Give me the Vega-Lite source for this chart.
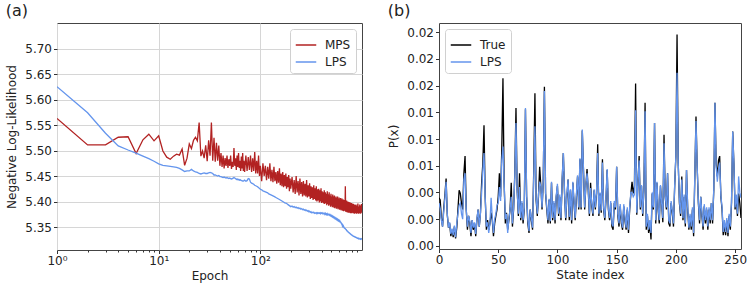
{
  "$schema": "https://vega.github.io/schema/vega-lite/v6.json",
  "padding": {"left": 5, "top": 2, "right": 5, "bottom": 2},
  "background": "white",
  "spacing": 24,
  "config": {
    "font": "DejaVu Sans",
    "view": {"stroke": "#444", "strokeWidth": 1},
    "axis": {"domain": false, "labelFontSize": 12, "titleFontSize": 12, "labelColor": "#222", "titleColor": "#222", "titleFontWeight": "normal", "tickColor": "#333", "tickSize": 3.5, "labelPadding": 2, "grid": false, "labelFont": "DejaVu Sans", "titleFont": "DejaVu Sans"},
    "title": {"fontSize": 16, "fontWeight": "normal", "anchor": "start", "frame": "bounds", "font": "DejaVu Sans", "color": "#222"},
    "legend": {"title": null, "symbolType": "stroke", "symbolStrokeWidth": 1.5, "symbolSize": 420, "labelFontSize": 12, "labelFont": "DejaVu Sans", "labelColor": "#222", "padding": 5, "rowPadding": 0, "fillColor": "white", "strokeColor": "#d0d0d0", "cornerRadius": 3, "offset": 6, "labelOffset": 8}
  },
  "datasets": {
    "nll": [
      {"e":1,"MPS":5.563,"LPS":5.625},{"e":2,"MPS":5.511,"LPS":5.574},{"e":3,"MPS":5.511,"LPS":5.534},{"e":4,"MPS":5.526,"LPS":5.509},{"e":5,"MPS":5.527,"LPS":5.501},
      {"e":6,"MPS":5.494,"LPS":5.495},{"e":7,"MPS":5.521,"LPS":5.489},{"e":8,"MPS":5.532,"LPS":5.484},{"e":9,"MPS":5.519,"LPS":5.479},{"e":10,"MPS":5.529,"LPS":5.474},
      {"e":11,"MPS":5.499,"LPS":5.471},{"e":12,"MPS":5.487,"LPS":5.470},{"e":13,"MPS":5.483,"LPS":5.469},{"e":14,"MPS":5.489,"LPS":5.468},{"e":15,"MPS":5.493,"LPS":5.467},
      {"e":16,"MPS":5.491,"LPS":5.465},{"e":17,"MPS":5.503,"LPS":5.462},{"e":18,"MPS":5.471,"LPS":5.459},{"e":19,"MPS":5.485,"LPS":5.460},{"e":20,"MPS":5.513,"LPS":5.460},
      {"e":21,"MPS":5.504,"LPS":5.463},{"e":22,"MPS":5.520,"LPS":5.460},{"e":23,"MPS":5.526,"LPS":5.458},{"e":24,"MPS":5.519,"LPS":5.457},{"e":25,"MPS":5.555,"LPS":5.455},
      {"e":26,"MPS":5.489,"LPS":5.454},{"e":27,"MPS":5.499,"LPS":5.455},{"e":28,"MPS":5.485,"LPS":5.456},{"e":29,"MPS":5.510,"LPS":5.455},{"e":30,"MPS":5.479,"LPS":5.455},
      {"e":31,"MPS":5.520,"LPS":5.456},{"e":32,"MPS":5.490,"LPS":5.457},{"e":33,"MPS":5.555,"LPS":5.456},{"e":34,"MPS":5.480,"LPS":5.455},{"e":35,"MPS":5.525,"LPS":5.452},
      {"e":36,"MPS":5.478,"LPS":5.452},{"e":37,"MPS":5.515,"LPS":5.451},{"e":38,"MPS":5.480,"LPS":5.450},{"e":39,"MPS":5.510,"LPS":5.451},{"e":40,"MPS":5.470,"LPS":5.449},
      {"e":41,"MPS":5.495,"LPS":5.449},{"e":42,"MPS":5.468,"LPS":5.448},{"e":43,"MPS":5.490,"LPS":5.447},{"e":44,"MPS":5.465,"LPS":5.448},{"e":45,"MPS":5.485,"LPS":5.447},
      {"e":46,"MPS":5.470,"LPS":5.446},{"e":47,"MPS":5.490,"LPS":5.447},{"e":48,"MPS":5.466,"LPS":5.446},{"e":49,"MPS":5.483,"LPS":5.445},{"e":50,"MPS":5.470,"LPS":5.446},
      {"e":51,"MPS":5.490,"LPS":5.445},{"e":52,"MPS":5.464,"LPS":5.444},{"e":53,"MPS":5.478,"LPS":5.445},{"e":54,"MPS":5.468,"LPS":5.446},{"e":55,"MPS":5.505,"LPS":5.447},
      {"e":56,"MPS":5.470,"LPS":5.446},{"e":57,"MPS":5.485,"LPS":5.445},{"e":58,"MPS":5.462,"LPS":5.444},{"e":59,"MPS":5.490,"LPS":5.443},{"e":60,"MPS":5.468,"LPS":5.444},
      {"e":61,"MPS":5.495,"LPS":5.443},{"e":62,"MPS":5.466,"LPS":5.442},{"e":63,"MPS":5.480,"LPS":5.443},{"e":64,"MPS":5.460,"LPS":5.442},{"e":65,"MPS":5.488,"LPS":5.441},
      {"e":66,"MPS":5.465,"LPS":5.441},{"e":67,"MPS":5.495,"LPS":5.440},{"e":68,"MPS":5.460,"LPS":5.440},{"e":69,"MPS":5.480,"LPS":5.441},{"e":70,"MPS":5.458,"LPS":5.442},
      {"e":72,"MPS":5.490,"LPS":5.440},{"e":74,"MPS":5.460,"LPS":5.441},{"e":76,"MPS":5.487,"LPS":5.445},{"e":78,"MPS":5.462,"LPS":5.444},{"e":80,"MPS":5.490,"LPS":5.438},
      {"e":82,"MPS":5.458,"LPS":5.436},{"e":84,"MPS":5.485,"LPS":5.435},{"e":86,"MPS":5.460,"LPS":5.434},{"e":88,"MPS":5.497,"LPS":5.432},{"e":90,"MPS":5.455,"LPS":5.431},
      {"e":92,"MPS":5.480,"LPS":5.430},{"e":94,"MPS":5.455,"LPS":5.429},{"e":96,"MPS":5.490,"LPS":5.427},{"e":98,"MPS":5.450,"LPS":5.426},{"e":100,"MPS":5.470,"LPS":5.424},
      {"e":103,"MPS":5.440,"LPS":5.423},{"e":106,"MPS":5.475,"LPS":5.421},{"e":109,"MPS":5.450,"LPS":5.420},{"e":112,"MPS":5.470,"LPS":5.419},{"e":115,"MPS":5.442,"LPS":5.418},
      {"e":118,"MPS":5.468,"LPS":5.417},{"e":121,"MPS":5.445,"LPS":5.415},{"e":124,"MPS":5.475,"LPS":5.414},{"e":127,"MPS":5.440,"LPS":5.413},{"e":130,"MPS":5.462,"LPS":5.412},
      {"e":133,"MPS":5.438,"LPS":5.411},{"e":136,"MPS":5.468,"LPS":5.410},{"e":139,"MPS":5.440,"LPS":5.409},{"e":142,"MPS":5.458,"LPS":5.408},{"e":145,"MPS":5.435,"LPS":5.407},
      {"e":148,"MPS":5.460,"LPS":5.406},{"e":151,"MPS":5.437,"LPS":5.405},{"e":154,"MPS":5.465,"LPS":5.404},{"e":157,"MPS":5.432,"LPS":5.403},{"e":160,"MPS":5.455,"LPS":5.402},
      {"e":163,"MPS":5.430,"LPS":5.401},{"e":166,"MPS":5.458,"LPS":5.400},{"e":169,"MPS":5.428,"LPS":5.399},{"e":172,"MPS":5.452,"LPS":5.398},{"e":175,"MPS":5.430,"LPS":5.397},
      {"e":178,"MPS":5.455,"LPS":5.397},{"e":181,"MPS":5.425,"LPS":5.396},{"e":184,"MPS":5.448,"LPS":5.395},{"e":187,"MPS":5.428,"LPS":5.394},{"e":190,"MPS":5.452,"LPS":5.393},
      {"e":193,"MPS":5.420,"LPS":5.392},{"e":196,"MPS":5.445,"LPS":5.391},{"e":199,"MPS":5.425,"LPS":5.390},
      {"e":205,"MPS":5.448,"LPS":5.391},{"e":210,"MPS":5.418,"LPS":5.389},{"e":215,"MPS":5.442,"LPS":5.390},{"e":220,"MPS":5.415,"LPS":5.388},{"e":225,"MPS":5.450,"LPS":5.389},
      {"e":230,"MPS":5.418,"LPS":5.387},{"e":235,"MPS":5.440,"LPS":5.388},{"e":240,"MPS":5.412,"LPS":5.386},{"e":245,"MPS":5.445,"LPS":5.387},{"e":250,"MPS":5.415,"LPS":5.385},
      {"e":255,"MPS":5.438,"LPS":5.386},{"e":260,"MPS":5.410,"LPS":5.384},{"e":265,"MPS":5.440,"LPS":5.385},{"e":270,"MPS":5.412,"LPS":5.383},{"e":275,"MPS":5.435,"LPS":5.384},
      {"e":280,"MPS":5.410,"LPS":5.382},{"e":285,"MPS":5.442,"LPS":5.383},{"e":290,"MPS":5.408,"LPS":5.381},{"e":295,"MPS":5.432,"LPS":5.382},{"e":300,"MPS":5.410,"LPS":5.380},
      {"e":305,"MPS":5.436,"LPS":5.381},{"e":310,"MPS":5.405,"LPS":5.379},{"e":315,"MPS":5.430,"LPS":5.380},{"e":320,"MPS":5.407,"LPS":5.378},{"e":325,"MPS":5.428,"LPS":5.379},
      {"e":330,"MPS":5.403,"LPS":5.378},{"e":335,"MPS":5.432,"LPS":5.379},{"e":340,"MPS":5.405,"LPS":5.377},{"e":345,"MPS":5.426,"LPS":5.378},{"e":350,"MPS":5.402,"LPS":5.377},
      {"e":355,"MPS":5.430,"LPS":5.378},{"e":360,"MPS":5.400,"LPS":5.376},{"e":365,"MPS":5.424,"LPS":5.378},{"e":370,"MPS":5.402,"LPS":5.377},{"e":375,"MPS":5.425,"LPS":5.378},
      {"e":380,"MPS":5.398,"LPS":5.377},{"e":385,"MPS":5.422,"LPS":5.378},{"e":390,"MPS":5.400,"LPS":5.376},{"e":395,"MPS":5.426,"LPS":5.378},{"e":400,"MPS":5.397,"LPS":5.377},
      {"e":405,"MPS":5.420,"LPS":5.378},{"e":410,"MPS":5.398,"LPS":5.376},{"e":415,"MPS":5.418,"LPS":5.377},{"e":420,"MPS":5.396,"LPS":5.376},{"e":425,"MPS":5.422,"LPS":5.377},
      {"e":430,"MPS":5.395,"LPS":5.375},{"e":435,"MPS":5.418,"LPS":5.377},{"e":440,"MPS":5.397,"LPS":5.375},{"e":445,"MPS":5.415,"LPS":5.376},{"e":450,"MPS":5.393,"LPS":5.374},
      {"e":455,"MPS":5.420,"LPS":5.376},{"e":460,"MPS":5.395,"LPS":5.374},{"e":465,"MPS":5.414,"LPS":5.375},{"e":470,"MPS":5.392,"LPS":5.374},{"e":475,"MPS":5.418,"LPS":5.375},
      {"e":480,"MPS":5.394,"LPS":5.373},{"e":485,"MPS":5.412,"LPS":5.374},{"e":490,"MPS":5.390,"LPS":5.372},{"e":495,"MPS":5.415,"LPS":5.373},{"e":500,"MPS":5.392,"LPS":5.371},
      {"e":505,"MPS":5.410,"LPS":5.372},{"e":510,"MPS":5.389,"LPS":5.370},{"e":515,"MPS":5.414,"LPS":5.371},{"e":520,"MPS":5.390,"LPS":5.369},{"e":525,"MPS":5.410,"LPS":5.370},
      {"e":530,"MPS":5.388,"LPS":5.368},{"e":535,"MPS":5.412,"LPS":5.369},{"e":540,"MPS":5.387,"LPS":5.367},{"e":545,"MPS":5.408,"LPS":5.368},{"e":550,"MPS":5.389,"LPS":5.366},
      {"e":555,"MPS":5.410,"LPS":5.367},{"e":560,"MPS":5.386,"LPS":5.365},{"e":565,"MPS":5.407,"LPS":5.366},{"e":570,"MPS":5.388,"LPS":5.364},{"e":575,"MPS":5.410,"LPS":5.365},
      {"e":580,"MPS":5.385,"LPS":5.363},{"e":585,"MPS":5.405,"LPS":5.364},{"e":590,"MPS":5.387,"LPS":5.362},{"e":595,"MPS":5.408,"LPS":5.363},{"e":600,"MPS":5.384,"LPS":5.361},
      {"e":605,"MPS":5.404,"LPS":5.362},{"e":610,"MPS":5.386,"LPS":5.360},{"e":615,"MPS":5.407,"LPS":5.360},{"e":620,"MPS":5.383,"LPS":5.358},{"e":625,"MPS":5.403,"LPS":5.358},
      {"e":630,"MPS":5.385,"LPS":5.356},{"e":635,"MPS":5.406,"LPS":5.356},{"e":640,"MPS":5.382,"LPS":5.353},{"e":645,"MPS":5.402,"LPS":5.354},{"e":650,"MPS":5.384,"LPS":5.351},
      {"e":655,"MPS":5.404,"LPS":5.352},{"e":660,"MPS":5.381,"LPS":5.350},{"e":665,"MPS":5.401,"LPS":5.350},{"e":670,"MPS":5.383,"LPS":5.348},{"e":675,"MPS":5.403,"LPS":5.348},
      {"e":680,"MPS":5.382,"LPS":5.347},{"e":685,"MPS":5.430,"LPS":5.347},{"e":690,"MPS":5.380,"LPS":5.346},{"e":695,"MPS":5.400,"LPS":5.345},{"e":700,"MPS":5.381,"LPS":5.345},
      {"e":705,"MPS":5.402,"LPS":5.343},{"e":710,"MPS":5.379,"LPS":5.343},{"e":715,"MPS":5.398,"LPS":5.342},{"e":720,"MPS":5.381,"LPS":5.342},{"e":725,"MPS":5.400,"LPS":5.341},
      {"e":730,"MPS":5.378,"LPS":5.340},{"e":735,"MPS":5.397,"LPS":5.340},{"e":740,"MPS":5.380,"LPS":5.339},{"e":745,"MPS":5.399,"LPS":5.339},{"e":750,"MPS":5.378,"LPS":5.338},
      {"e":755,"MPS":5.396,"LPS":5.338},{"e":760,"MPS":5.379,"LPS":5.337},{"e":765,"MPS":5.398,"LPS":5.337},{"e":770,"MPS":5.377,"LPS":5.336},{"e":775,"MPS":5.395,"LPS":5.336},
      {"e":780,"MPS":5.379,"LPS":5.335},{"e":785,"MPS":5.397,"LPS":5.335},{"e":790,"MPS":5.377,"LPS":5.334},{"e":795,"MPS":5.394,"LPS":5.334},{"e":800,"MPS":5.378,"LPS":5.334},
      {"e":810,"MPS":5.396,"LPS":5.333},{"e":820,"MPS":5.377,"LPS":5.332},{"e":830,"MPS":5.395,"LPS":5.332},{"e":840,"MPS":5.376,"LPS":5.331},{"e":850,"MPS":5.393,"LPS":5.331},
      {"e":860,"MPS":5.377,"LPS":5.330},{"e":870,"MPS":5.394,"LPS":5.330},{"e":880,"MPS":5.376,"LPS":5.329},{"e":890,"MPS":5.392,"LPS":5.329},{"e":900,"MPS":5.377,"LPS":5.328},
      {"e":910,"MPS":5.396,"LPS":5.328},{"e":920,"MPS":5.376,"LPS":5.327},{"e":930,"MPS":5.390,"LPS":5.328},{"e":940,"MPS":5.377,"LPS":5.327},{"e":950,"MPS":5.394,"LPS":5.327},
      {"e":960,"MPS":5.376,"LPS":5.326},{"e":970,"MPS":5.392,"LPS":5.327},{"e":980,"MPS":5.377,"LPS":5.326},{"e":990,"MPS":5.395,"LPS":5.327},{"e":999,"MPS":5.380,"LPS":5.326}
    ],
    "px": [
      {"i":0,"True":0.0045,"LPS":0.0040},{"i":1,"True":0.0043,"LPS":0.0035},{"i":2,"True":0.0026,"LPS":0.0024},{"i":3,"True":0.0018,"LPS":0.0018},{"i":4,"True":0.0035,"LPS":0.0032},
      {"i":5,"True":0.0048,"LPS":0.0045},{"i":6,"True":0.0063,"LPS":0.0060},{"i":7,"True":0.0029,"LPS":0.0030},{"i":8,"True":0.0017,"LPS":0.0017},{"i":9,"True":0.0021,"LPS":0.0022},
      {"i":10,"True":0.0009,"LPS":0.0011},{"i":11,"True":0.0015,"LPS":0.0016},{"i":12,"True":0.0008,"LPS":0.0010},{"i":13,"True":0.0018,"LPS":0.0019},{"i":14,"True":0.0007,"LPS":0.0008},
      {"i":15,"True":0.0017,"LPS":0.0021},{"i":16,"True":0.0034,"LPS":0.0030},{"i":17,"True":0.0052,"LPS":0.0038},{"i":18,"True":0.0049,"LPS":0.0040},{"i":19,"True":0.0040,"LPS":0.0030},
      {"i":20,"True":0.0034,"LPS":0.0025},{"i":21,"True":0.0068,"LPS":0.0062},{"i":22,"True":0.0084,"LPS":0.0068},{"i":23,"True":0.0034,"LPS":0.0034},{"i":24,"True":0.0015,"LPS":0.0018},
      {"i":25,"True":0.0028,"LPS":0.0028},{"i":26,"True":0.0021,"LPS":0.0023},{"i":27,"True":0.0009,"LPS":0.0012},{"i":28,"True":0.0024,"LPS":0.0024},{"i":29,"True":0.0015,"LPS":0.0017},
      {"i":30,"True":0.0021,"LPS":0.0022},{"i":31,"True":0.0009,"LPS":0.0011},{"i":32,"True":0.0024,"LPS":0.0025},{"i":33,"True":0.0034,"LPS":0.0034},{"i":34,"True":0.0018,"LPS":0.0018},
      {"i":35,"True":0.0031,"LPS":0.0030},{"i":36,"True":0.0059,"LPS":0.0050},{"i":37,"True":0.0077,"LPS":0.0071},{"i":38,"True":0.0113,"LPS":0.0087},{"i":39,"True":0.0046,"LPS":0.0046},
      {"i":40,"True":0.0015,"LPS":0.0018},{"i":41,"True":0.0024,"LPS":0.0022},{"i":42,"True":0.0015,"LPS":0.0012},{"i":43,"True":0.0021,"LPS":0.0021},{"i":44,"True":0.0031,"LPS":0.0045},
      {"i":45,"True":0.0024,"LPS":0.0026},{"i":46,"True":0.0009,"LPS":0.0012},{"i":47,"True":0.0021,"LPS":0.0025},{"i":48,"True":0.0028,"LPS":0.0030},{"i":49,"True":0.0034,"LPS":0.0038},
      {"i":50,"True":0.0046,"LPS":0.0040},{"i":51,"True":0.0068,"LPS":0.0055},{"i":52,"True":0.0046,"LPS":0.0042},{"i":53,"True":0.0090,"LPS":0.0080},{"i":54,"True":0.0157,"LPS":0.0093},
      {"i":55,"True":0.0059,"LPS":0.0060},{"i":56,"True":0.0021,"LPS":0.0025},{"i":57,"True":0.0031,"LPS":0.0030},{"i":58,"True":0.0015,"LPS":0.0012},{"i":59,"True":0.0024,"LPS":0.0026},
      {"i":60,"True":0.0034,"LPS":0.0034},{"i":61,"True":0.0059,"LPS":0.0046},{"i":62,"True":0.0018,"LPS":0.0021},{"i":63,"True":0.0034,"LPS":0.0036},{"i":64,"True":0.0068,"LPS":0.0065},
      {"i":65,"True":0.0129,"LPS":0.0115},{"i":66,"True":0.0052,"LPS":0.0052},{"i":67,"True":0.0028,"LPS":0.0030},{"i":68,"True":0.0068,"LPS":0.0055},{"i":69,"True":0.0024,"LPS":0.0026},
      {"i":70,"True":0.0040,"LPS":0.0042},{"i":71,"True":0.0021,"LPS":0.0024},{"i":72,"True":0.0034,"LPS":0.0036},{"i":73,"True":0.0128,"LPS":0.0129},{"i":74,"True":0.0046,"LPS":0.0047},
      {"i":75,"True":0.0021,"LPS":0.0024},{"i":76,"True":0.0012,"LPS":0.0014},{"i":77,"True":0.0034,"LPS":0.0034},{"i":78,"True":0.0024,"LPS":0.0026},{"i":79,"True":0.0015,"LPS":0.0017},
      {"i":80,"True":0.0071,"LPS":0.0065},{"i":81,"True":0.0143,"LPS":0.0112},{"i":82,"True":0.0043,"LPS":0.0046},{"i":83,"True":0.0028,"LPS":0.0030},{"i":84,"True":0.0046,"LPS":0.0048},
      {"i":85,"True":0.0074,"LPS":0.0060},{"i":86,"True":0.0056,"LPS":0.0056},{"i":87,"True":0.0034,"LPS":0.0036},{"i":88,"True":0.0059,"LPS":0.0060},{"i":89,"True":0.0149,"LPS":0.0145},
      {"i":90,"True":0.0049,"LPS":0.0050},{"i":91,"True":0.0034,"LPS":0.0036},{"i":92,"True":0.0021,"LPS":0.0024},{"i":93,"True":0.0043,"LPS":0.0044},{"i":94,"True":0.0021,"LPS":0.0023},
      {"i":95,"True":0.0059,"LPS":0.0060},{"i":96,"True":0.0024,"LPS":0.0026},{"i":97,"True":0.0040,"LPS":0.0042},{"i":98,"True":0.0021,"LPS":0.0024},{"i":99,"True":0.0046,"LPS":0.0047},
      {"i":100,"True":0.0056,"LPS":0.0058},{"i":101,"True":0.0028,"LPS":0.0030},{"i":102,"True":0.0046,"LPS":0.0048},{"i":103,"True":0.0024,"LPS":0.0026},{"i":104,"True":0.0062,"LPS":0.0063},
      {"i":105,"True":0.0087,"LPS":0.0087},{"i":106,"True":0.0049,"LPS":0.0050},{"i":107,"True":0.0024,"LPS":0.0026},{"i":108,"True":0.0046,"LPS":0.0048},{"i":109,"True":0.0062,"LPS":0.0062},
      {"i":110,"True":0.0024,"LPS":0.0027},{"i":111,"True":0.0052,"LPS":0.0053},{"i":112,"True":0.0021,"LPS":0.0024},{"i":113,"True":0.0059,"LPS":0.0060},{"i":114,"True":0.0040,"LPS":0.0042},
      {"i":115,"True":0.0024,"LPS":0.0026},{"i":116,"True":0.0046,"LPS":0.0048},{"i":117,"True":0.0065,"LPS":0.0066},{"i":118,"True":0.0034,"LPS":0.0036},{"i":119,"True":0.0081,"LPS":0.0082},
      {"i":120,"True":0.0034,"LPS":0.0036},{"i":121,"True":0.0108,"LPS":0.0109},{"i":122,"True":0.0071,"LPS":0.0072},{"i":123,"True":0.0034,"LPS":0.0036},{"i":124,"True":0.0056,"LPS":0.0057},
      {"i":125,"True":0.0072,"LPS":0.0068},{"i":126,"True":0.0052,"LPS":0.0054},{"i":127,"True":0.0028,"LPS":0.0030},{"i":128,"True":0.0059,"LPS":0.0054},{"i":129,"True":0.0037,"LPS":0.0039},
      {"i":130,"True":0.0028,"LPS":0.0030},{"i":131,"True":0.0052,"LPS":0.0053},{"i":132,"True":0.0034,"LPS":0.0036},{"i":133,"True":0.0049,"LPS":0.0050},{"i":134,"True":0.0095,"LPS":0.0087},
      {"i":135,"True":0.0028,"LPS":0.0030},{"i":136,"True":0.0049,"LPS":0.0050},{"i":137,"True":0.0031,"LPS":0.0033},{"i":138,"True":0.0081,"LPS":0.0078},{"i":139,"True":0.0034,"LPS":0.0036},
      {"i":140,"True":0.0024,"LPS":0.0026},{"i":141,"True":0.0043,"LPS":0.0045},{"i":142,"True":0.0071,"LPS":0.0072},{"i":143,"True":0.0034,"LPS":0.0036},{"i":144,"True":0.0024,"LPS":0.0026},
      {"i":145,"True":0.0040,"LPS":0.0042},{"i":146,"True":0.0018,"LPS":0.0021},{"i":147,"True":0.0015,"LPS":0.0018},{"i":148,"True":0.0040,"LPS":0.0042},{"i":149,"True":0.0034,"LPS":0.0036},
      {"i":150,"True":0.0074,"LPS":0.0074},{"i":151,"True":0.0028,"LPS":0.0030},{"i":152,"True":0.0018,"LPS":0.0021},{"i":153,"True":0.0037,"LPS":0.0039},{"i":154,"True":0.0021,"LPS":0.0024},
      {"i":155,"True":0.0015,"LPS":0.0017},{"i":156,"True":0.0037,"LPS":0.0039},{"i":157,"True":0.0024,"LPS":0.0026},{"i":158,"True":0.0015,"LPS":0.0017},{"i":159,"True":0.0034,"LPS":0.0036},
      {"i":160,"True":0.0012,"LPS":0.0015},{"i":161,"True":0.0034,"LPS":0.0036},{"i":162,"True":0.0049,"LPS":0.0050},{"i":163,"True":0.0060,"LPS":0.0050},{"i":164,"True":0.0049,"LPS":0.0046},
      {"i":165,"True":0.0056,"LPS":0.0048},{"i":166,"True":0.0152,"LPS":0.0127},{"i":167,"True":0.0029,"LPS":0.0031},{"i":168,"True":0.0059,"LPS":0.0060},{"i":169,"True":0.0084,"LPS":0.0080},
      {"i":170,"True":0.0034,"LPS":0.0036},{"i":171,"True":0.0056,"LPS":0.0057},{"i":172,"True":0.0028,"LPS":0.0030},{"i":173,"True":0.0052,"LPS":0.0053},{"i":174,"True":0.0134,"LPS":0.0126},
      {"i":175,"True":0.0015,"LPS":0.0018},{"i":176,"True":0.0028,"LPS":0.0030},{"i":177,"True":0.0012,"LPS":0.0015},{"i":178,"True":0.0021,"LPS":0.0024},{"i":179,"True":0.0006,"LPS":0.0012},
      {"i":180,"True":0.0049,"LPS":0.0050},{"i":181,"True":0.0034,"LPS":0.0036},{"i":182,"True":0.0115,"LPS":0.0115},{"i":183,"True":0.0021,"LPS":0.0024},{"i":184,"True":0.0059,"LPS":0.0060},
      {"i":185,"True":0.0034,"LPS":0.0036},{"i":186,"True":0.0021,"LPS":0.0024},{"i":187,"True":0.0056,"LPS":0.0057},{"i":188,"True":0.0040,"LPS":0.0040},{"i":189,"True":0.0022,"LPS":0.0026},
      {"i":190,"True":0.0104,"LPS":0.0096},{"i":191,"True":0.0046,"LPS":0.0047},{"i":192,"True":0.0034,"LPS":0.0036},{"i":193,"True":0.0068,"LPS":0.0068},{"i":194,"True":0.0021,"LPS":0.0024},
      {"i":195,"True":0.0018,"LPS":0.0021},{"i":196,"True":0.0040,"LPS":0.0042},{"i":197,"True":0.0031,"LPS":0.0033},{"i":198,"True":0.0018,"LPS":0.0021},{"i":199,"True":0.0056,"LPS":0.0057},
      {"i":200,"True":0.0084,"LPS":0.0084},{"i":201,"True":0.0198,"LPS":0.0162},{"i":202,"True":0.0077,"LPS":0.0077},{"i":203,"True":0.0040,"LPS":0.0042},{"i":204,"True":0.0028,"LPS":0.0030},
      {"i":205,"True":0.0065,"LPS":0.0062},{"i":206,"True":0.0024,"LPS":0.0026},{"i":207,"True":0.0046,"LPS":0.0048},{"i":208,"True":0.0018,"LPS":0.0021},{"i":209,"True":0.0071,"LPS":0.0071},
      {"i":210,"True":0.0034,"LPS":0.0036},{"i":211,"True":0.0015,"LPS":0.0017},{"i":212,"True":0.0028,"LPS":0.0030},{"i":213,"True":0.0015,"LPS":0.0018},{"i":214,"True":0.0034,"LPS":0.0036},
      {"i":215,"True":0.0009,"LPS":0.0012},{"i":216,"True":0.0065,"LPS":0.0066},{"i":217,"True":0.0121,"LPS":0.0117},{"i":218,"True":0.0074,"LPS":0.0074},{"i":219,"True":0.0040,"LPS":0.0042},
      {"i":220,"True":0.0021,"LPS":0.0024},{"i":221,"True":0.0046,"LPS":0.0046},{"i":222,"True":0.0028,"LPS":0.0030},{"i":223,"True":0.0015,"LPS":0.0018},{"i":224,"True":0.0037,"LPS":0.0039},
      {"i":225,"True":0.0021,"LPS":0.0024},{"i":226,"True":0.0034,"LPS":0.0036},{"i":227,"True":0.0015,"LPS":0.0018},{"i":228,"True":0.0034,"LPS":0.0036},{"i":229,"True":0.0021,"LPS":0.0024},
      {"i":230,"True":0.0040,"LPS":0.0040},{"i":231,"True":0.0021,"LPS":0.0024},{"i":232,"True":0.0052,"LPS":0.0053},{"i":233,"True":0.0134,"LPS":0.0134},{"i":234,"True":0.0077,"LPS":0.0075},
      {"i":235,"True":0.0065,"LPS":0.0060},{"i":236,"True":0.0080,"LPS":0.0072},{"i":237,"True":0.0084,"LPS":0.0078},{"i":238,"True":0.0046,"LPS":0.0047},{"i":239,"True":0.0034,"LPS":0.0036},
      {"i":240,"True":0.0010,"LPS":0.0013},{"i":241,"True":0.0021,"LPS":0.0024},{"i":242,"True":0.0010,"LPS":0.0013},{"i":243,"True":0.0024,"LPS":0.0026},{"i":244,"True":0.0009,"LPS":0.0012},
      {"i":245,"True":0.0028,"LPS":0.0030},{"i":246,"True":0.0015,"LPS":0.0018},{"i":247,"True":0.0040,"LPS":0.0042},{"i":248,"True":0.0107,"LPS":0.0107},{"i":249,"True":0.0077,"LPS":0.0077},
      {"i":250,"True":0.0034,"LPS":0.0036},{"i":251,"True":0.0046,"LPS":0.0048},{"i":252,"True":0.0028,"LPS":0.0030},{"i":253,"True":0.0049,"LPS":0.0065},{"i":254,"True":0.0040,"LPS":0.0050},
      {"i":255,"True":0.0026,"LPS":0.0045}
    ]
  },
  "resolve": {"scale": {"color": "independent"}, "legend": {"color": "independent"}},
  "hconcat": [
    {
      "width": 305,
      "height": 227,
      "title": {"text": "(a)"},
      "data": {"name": "nll"},
      "transform": [{"fold": ["MPS", "LPS"], "as": ["series", "value"]}],
      "mark": {"type": "line", "strokeWidth": 1.3, "clip": true},
      "encoding": {
        "x": {
          "field": "e", "type": "quantitative",
          "scale": {"type": "log", "domain": [1, 999], "nice": false},
          "axis": {
            "title": "Epoch",
            "values": [1,2,3,4,5,6,7,8,9,10,20,30,40,50,60,70,80,90,100,200,300,400,500,600,700,800,900],
            "labelExpr": "datum.value==1?'10⁰':datum.value==10?'10¹':datum.value==100?'10²':''",
            "labelFlush": false,
            "labelOverlap": false,
            "grid": true,
            "gridColor": "#d6d6d6",
            "gridOpacity": {"condition": {"test": "datum.value==1||datum.value==10||datum.value==100", "value": 1}, "value": 0},
            "tickSize": {"condition": {"test": "datum.value==1||datum.value==10||datum.value==100", "value": 3.5}, "value": 2}
          }
        },
        "y": {
          "field": "value", "type": "quantitative",
          "scale": {"domain": [5.305, 5.75], "nice": false, "zero": false},
          "axis": {"title": "Negative Log-Likelihood", "values": [5.35, 5.4, 5.45, 5.5, 5.55, 5.6, 5.65, 5.7], "format": ".2f", "grid": true, "gridColor": "#d6d6d6", "titlePadding": 6}
        },
        "color": {
          "field": "series", "type": "nominal",
          "scale": {"domain": ["MPS", "LPS"], "range": ["#b22222", "#6495ed"]},
          "legend": {"orient": "top-right"}
        }
      }
    },
    {
      "width": 302,
      "height": 226,
      "title": {"text": "(b)"},
      "data": {"name": "px"},
      "transform": [{"fold": ["True", "LPS"], "as": ["series", "value"]}],
      "encoding": {
        "x": {
          "field": "i", "type": "quantitative",
          "scale": {"domain": [0, 255], "nice": false},
          "axis": {"title": "State index", "values": [0, 50, 100, 150, 200, 250], "labelFlush": false}
        },
        "y": {
          "field": "value", "type": "quantitative",
          "scale": {"domain": [-0.0003, 0.02087], "nice": false, "zero": false},
          "axis": {"title": "P(x)", "values": [0, 0.0025, 0.005, 0.0075, 0.01, 0.0125, 0.015, 0.0175, 0.02], "labelExpr": "datum.value < 0.006 ? '0.00' : datum.value < 0.014 ? '0.01' : '0.02'", "titlePadding": 6}
        },
        "color": {
          "field": "series", "type": "nominal",
          "scale": {"domain": ["True", "LPS"], "range": ["#000000", "#6495ed"]},
          "legend": {"orient": "top-left"}
        }
      },
      "layer": [
        {"transform": [{"filter": "datum.series === 'True'"}], "mark": {"type": "line", "strokeWidth": 1.3, "clip": true}},
        {"transform": [{"filter": "datum.series === 'LPS'"}], "mark": {"type": "line", "strokeWidth": 1.3, "clip": true}}
      ]
    }
  ]
}
